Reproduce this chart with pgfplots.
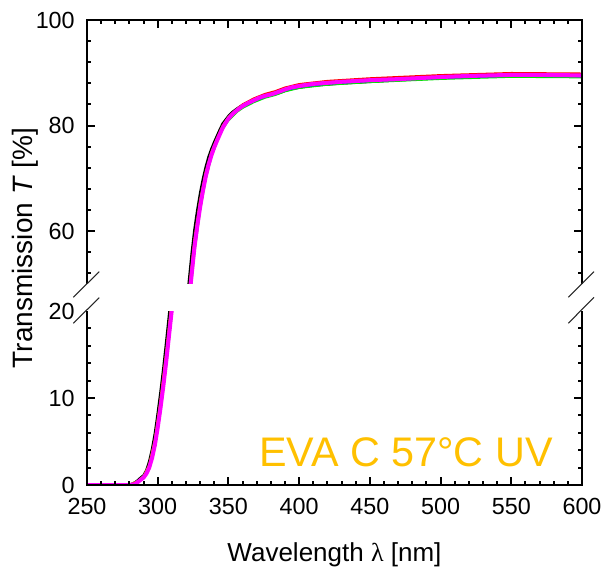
\documentclass[border=0pt]{standalone}
\usepackage{pgfplots}
\pgfplotsset{compat=1.18}
\usepackage{pgfplotstable}
\usepackage{fontspec}
\setmainfont{Liberation Sans}
\newfontfamily\greekserif{Liberation Serif}
\definecolor{evagold}{RGB}{255,192,0}
\definecolor{mag}{RGB}{255,0,255}
\definecolor{ylw}{RGB}{255,230,0}
\definecolor{grn}{RGB}{0,230,0}
\definecolor{blu}{RGB}{40,40,255}

\pgfplotstableread{
lam T
250 0
260 0
270 0
280 0
284 0.1
286 0.35
288 0.6
290 0.85
292 1.3
294 2.0
296 3.1
298 4.6
300 6.6
302 8.9
304 11.4
306 14.2
308 17.2
310 20.2
312 23.6
314 27.4
316 31.6
318 36.2
320 41.2
322 46.4
324 51.8
326 57.0
328 61.0
330 64.6
332 67.7
334 70.4
336 72.6
338 74.4
340 75.9
342 77.2
344 78.4
346 79.6
348 80.5
350 81.3
353 82.2
356 82.9
360 83.7
364 84.3
368 84.8
372 85.3
376 85.65
380 85.9
383 86.15
386 86.45
390 86.85
394 87.2
400 87.5
410 87.9
420 88.1
430 88.3
450 88.6
470 88.8
500 89.2
520 89.4
550 89.6
575 89.6
600 89.5
}\magdata

\pgfplotstableread{
lam T
250 0
260 0
270 0
280 0
284 0.3
286 0.55
288 0.85
290 1.1
292 1.7
294 2.7
296 4.1
298 5.9
300 8.2
302 10.7
304 13.4
306 16.4
308 19.5
310 22.6
312 26.3
314 30.4
316 34.9
318 39.8
320 45.0
322 50.3
324 55.7
326 60.3
328 64.0
330 67.2
332 69.9
334 72.2
336 74.1
338 75.6
340 76.9
342 78.1
344 79.3
346 80.4
348 81.1
350 81.8
353 82.6
356 83.2
360 83.9
364 84.4
368 84.8
372 85.2
376 85.5
380 85.75
383 85.95
386 86.2
390 86.6
394 86.9
400 87.2
410 87.6
420 87.8
430 88.0
450 88.3
470 88.6
500 89.0
520 89.2
550 89.4
575 89.4
600 89.3
}\blkdata

\pgfplotstableread{
lam T
250 0
280 0
286 0.4
290 0.95
294 2.2
298 5.0
302 9.5
306 14.9
310 21.0
314 28.4
318 37.4
322 47.7
326 58.0
330 65.4
334 71.0
338 74.8
342 77.5
346 79.9
350 81.5
356 83.1
360 84.0
368 85.15
376 86.0
383 86.5
390 87.2
400 87.85
420 88.45
450 88.95
500 89.55
550 89.95
600 89.85
}\reddata

\pgfplotstableread{
lam T
250 0
280 0
286 0.45
290 1.0
294 2.3
298 5.2
302 9.7
306 15.2
310 21.3
314 28.8
318 37.9
322 48.2
326 58.4
330 65.8
334 71.2
338 75.0
342 77.6
346 80.0
350 81.6
356 83.1
360 83.9
368 85.0
376 85.85
383 86.35
390 87.05
400 87.7
420 88.3
450 88.8
500 89.4
550 89.8
600 89.7
}\ylwdata

\pgfplotstableread{
lam T
250 0
280 0
286 0.3
290 0.8
294 1.85
298 4.35
302 8.55
306 13.8
310 19.7
314 26.4
318 35.5
322 45.6
326 56.1
330 64.1
334 70.0
338 74.15
342 77.0
346 79.4
350 81.0
356 82.6
360 83.35
368 84.45
376 85.3
383 85.8
390 86.5
400 87.15
420 87.75
450 88.25
500 88.85
550 89.25
600 89.15
}\grndata

\pgfplotstableread{
lam T
250 0
280 0
286 0.35
290 0.85
294 2.0
298 4.6
302 8.9
306 14.2
310 20.2
314 27.4
318 36.2
322 46.4
326 57.0
330 64.6
334 70.4
338 74.4
342 77.2
346 79.6
350 81.3
356 82.9
360 83.55
368 84.65
376 85.5
383 86.0
390 86.7
400 87.35
420 87.95
450 88.45
500 89.05
550 89.45
600 89.35
}\bludata

\pgfkeys{/pgf/number format/assume math mode=true}

\pgfplotsset{
  brk/.style={
    scale only axis, width=371.25pt, xmin=250, xmax=600,
    axis line style={draw=none},
    tick align=inside,
    major tick length=0pt, minor tick length=0pt,
    xtick={250,300,...,600},
    tick label style={font=\fontsize{17.5}{20}\selectfont},
    yticklabel shift=5.7pt,
  },
}

\newcommand{\allcurves}{%
  \addplot[black, line width=1.9pt] table[x=lam,y=T]{\blkdata};
  \addplot[grn, line width=1.6pt] table[x=lam,y=T]{\grndata};
  \addplot[blu, line width=1.6pt] table[x=lam,y=T]{\bludata};
  \addplot[ylw, line width=1.6pt] table[x=lam,y=T]{\ylwdata};
  \addplot[red, line width=1.6pt] table[x=lam,y=T]{\reddata};
  \addplot[mag, line width=3pt] table[x=lam,y=T]{\magdata};
}

\begin{document}
\begin{tikzpicture}
\useasboundingbox (-65.25pt,-64.5pt) rectangle (389.25pt,363.75pt);

% upper axis
\begin{axis}[brk, at={(0pt,150.75pt)}, anchor=south west, height=198pt,
  ymin=50, ymax=100, ytick={60,80,100}, xticklabels={}]
  \allcurves
\end{axis}

% lower axis
\begin{axis}[brk, at={(0pt,0pt)}, anchor=south west, height=130.5pt,
  ymin=0, ymax=20, ytick={0,10,20}, xticklabel shift=6.5pt]
  \allcurves
  \node[anchor=base east, text=evagold, font=\fontsize{31}{36}\selectfont, inner sep=0pt]
    at (rel axis cs:0.9414,0.105) {EVA C 57°C UV};
\end{axis}

% frames (open at the break)
\draw[line width=2pt, line join=miter] (0pt,150.75pt) -- (0pt,348.75pt) -- (371.25pt,348.75pt) -- (371.25pt,150.75pt);
\draw[line width=2pt, line join=miter] (0pt,130.5pt) -- (0pt,0pt) -- (371.25pt,0pt) -- (371.25pt,130.5pt);

% major x ticks, top and bottom
\draw[line width=1.5pt]
  (53.04pt,348.75pt) -- (53.04pt,342.75pt) (106.07pt,348.75pt) -- (106.07pt,342.75pt)
  (159.11pt,348.75pt) -- (159.11pt,342.75pt) (212.14pt,348.75pt) -- (212.14pt,342.75pt)
  (265.18pt,348.75pt) -- (265.18pt,342.75pt) (318.21pt,348.75pt) -- (318.21pt,342.75pt)
  (53.04pt,0pt) -- (53.04pt,6pt) (106.07pt,0pt) -- (106.07pt,6pt)
  (159.11pt,0pt) -- (159.11pt,6pt) (212.14pt,0pt) -- (212.14pt,6pt)
  (265.18pt,0pt) -- (265.18pt,6pt) (318.21pt,0pt) -- (318.21pt,6pt);
% minor x ticks, top and bottom
\draw[line width=1.5pt]
  (10.61pt,348.75pt) -- (10.61pt,345.75pt) (21.21pt,348.75pt) -- (21.21pt,345.75pt)
  (31.82pt,348.75pt) -- (31.82pt,345.75pt) (42.43pt,348.75pt) -- (42.43pt,345.75pt)
  (63.64pt,348.75pt) -- (63.64pt,345.75pt) (74.25pt,348.75pt) -- (74.25pt,345.75pt)
  (84.86pt,348.75pt) -- (84.86pt,345.75pt) (95.46pt,348.75pt) -- (95.46pt,345.75pt)
  (116.68pt,348.75pt) -- (116.68pt,345.75pt) (127.29pt,348.75pt) -- (127.29pt,345.75pt)
  (137.89pt,348.75pt) -- (137.89pt,345.75pt) (148.50pt,348.75pt) -- (148.50pt,345.75pt)
  (169.71pt,348.75pt) -- (169.71pt,345.75pt) (180.32pt,348.75pt) -- (180.32pt,345.75pt)
  (190.93pt,348.75pt) -- (190.93pt,345.75pt) (201.54pt,348.75pt) -- (201.54pt,345.75pt)
  (222.75pt,348.75pt) -- (222.75pt,345.75pt) (233.36pt,348.75pt) -- (233.36pt,345.75pt)
  (243.96pt,348.75pt) -- (243.96pt,345.75pt) (254.57pt,348.75pt) -- (254.57pt,345.75pt)
  (275.79pt,348.75pt) -- (275.79pt,345.75pt) (286.39pt,348.75pt) -- (286.39pt,345.75pt)
  (297.00pt,348.75pt) -- (297.00pt,345.75pt) (307.61pt,348.75pt) -- (307.61pt,345.75pt)
  (328.82pt,348.75pt) -- (328.82pt,345.75pt) (339.43pt,348.75pt) -- (339.43pt,345.75pt)
  (350.04pt,348.75pt) -- (350.04pt,345.75pt) (360.64pt,348.75pt) -- (360.64pt,345.75pt)
  (10.61pt,0pt) -- (10.61pt,3pt) (21.21pt,0pt) -- (21.21pt,3pt)
  (31.82pt,0pt) -- (31.82pt,3pt) (42.43pt,0pt) -- (42.43pt,3pt)
  (63.64pt,0pt) -- (63.64pt,3pt) (74.25pt,0pt) -- (74.25pt,3pt)
  (84.86pt,0pt) -- (84.86pt,3pt) (95.46pt,0pt) -- (95.46pt,3pt)
  (116.68pt,0pt) -- (116.68pt,3pt) (127.29pt,0pt) -- (127.29pt,3pt)
  (137.89pt,0pt) -- (137.89pt,3pt) (148.50pt,0pt) -- (148.50pt,3pt)
  (169.71pt,0pt) -- (169.71pt,3pt) (180.32pt,0pt) -- (180.32pt,3pt)
  (190.93pt,0pt) -- (190.93pt,3pt) (201.54pt,0pt) -- (201.54pt,3pt)
  (222.75pt,0pt) -- (222.75pt,3pt) (233.36pt,0pt) -- (233.36pt,3pt)
  (243.96pt,0pt) -- (243.96pt,3pt) (254.57pt,0pt) -- (254.57pt,3pt)
  (275.79pt,0pt) -- (275.79pt,3pt) (286.39pt,0pt) -- (286.39pt,3pt)
  (297.00pt,0pt) -- (297.00pt,3pt) (307.61pt,0pt) -- (307.61pt,3pt)
  (328.82pt,0pt) -- (328.82pt,3pt) (339.43pt,0pt) -- (339.43pt,3pt)
  (350.04pt,0pt) -- (350.04pt,3pt) (360.64pt,0pt) -- (360.64pt,3pt);
% y ticks, upper panel (major 60, 80; minor every 4)
\draw[line width=1.5pt]
  (0pt,190.35pt) -- (6pt,190.35pt) (371.25pt,190.35pt) -- (365.25pt,190.35pt)
  (0pt,269.55pt) -- (6pt,269.55pt) (371.25pt,269.55pt) -- (365.25pt,269.55pt)
  (0pt,158.67pt) -- (3pt,158.67pt) (371.25pt,158.67pt) -- (368.25pt,158.67pt)
  (0pt,174.51pt) -- (3pt,174.51pt) (371.25pt,174.51pt) -- (368.25pt,174.51pt)
  (0pt,206.19pt) -- (3pt,206.19pt) (371.25pt,206.19pt) -- (368.25pt,206.19pt)
  (0pt,222.03pt) -- (3pt,222.03pt) (371.25pt,222.03pt) -- (368.25pt,222.03pt)
  (0pt,237.87pt) -- (3pt,237.87pt) (371.25pt,237.87pt) -- (368.25pt,237.87pt)
  (0pt,253.71pt) -- (3pt,253.71pt) (371.25pt,253.71pt) -- (368.25pt,253.71pt)
  (0pt,285.39pt) -- (3pt,285.39pt) (371.25pt,285.39pt) -- (368.25pt,285.39pt)
  (0pt,301.23pt) -- (3pt,301.23pt) (371.25pt,301.23pt) -- (368.25pt,301.23pt)
  (0pt,317.07pt) -- (3pt,317.07pt) (371.25pt,317.07pt) -- (368.25pt,317.07pt)
  (0pt,332.91pt) -- (3pt,332.91pt) (371.25pt,332.91pt) -- (368.25pt,332.91pt);
% y ticks, lower panel (major 10; minor every 2)
\draw[line width=1.5pt]
  (0pt,65.25pt) -- (6pt,65.25pt) (371.25pt,65.25pt) -- (365.25pt,65.25pt)
  (0pt,13.05pt) -- (3pt,13.05pt) (371.25pt,13.05pt) -- (368.25pt,13.05pt)
  (0pt,26.10pt) -- (3pt,26.10pt) (371.25pt,26.10pt) -- (368.25pt,26.10pt)
  (0pt,39.15pt) -- (3pt,39.15pt) (371.25pt,39.15pt) -- (368.25pt,39.15pt)
  (0pt,52.20pt) -- (3pt,52.20pt) (371.25pt,52.20pt) -- (368.25pt,52.20pt)
  (0pt,78.30pt) -- (3pt,78.30pt) (371.25pt,78.30pt) -- (368.25pt,78.30pt)
  (0pt,91.35pt) -- (3pt,91.35pt) (371.25pt,91.35pt) -- (368.25pt,91.35pt)
  (0pt,104.40pt) -- (3pt,104.40pt) (371.25pt,104.40pt) -- (368.25pt,104.40pt)
  (0pt,117.45pt) -- (3pt,117.45pt) (371.25pt,117.45pt) -- (368.25pt,117.45pt);

% axis-break marks
\draw[line width=0.8pt, black!85] (-10.3pt,121.3pt) -- (9.2pt,140.5pt);
\draw[line width=0.8pt, black!85] (-10.3pt,140.8pt) -- (9.2pt,160pt);
\draw[line width=0.8pt, black!85] (361pt,121.3pt) -- (380.25pt,140.8pt);
\draw[line width=0.8pt, black!85] (361pt,140.8pt) -- (380.25pt,160pt);

% axis labels
\node[rotate=90, font=\fontsize{21}{24}\selectfont] at (-46.5pt,177.75pt) {Transmission \textit{T} [\%]};
\node[font=\fontsize{19.5}{23}\selectfont] at (185.6pt,-52pt) {Wavelength {\greekserif λ} [nm]};
\end{tikzpicture}
\end{document}
